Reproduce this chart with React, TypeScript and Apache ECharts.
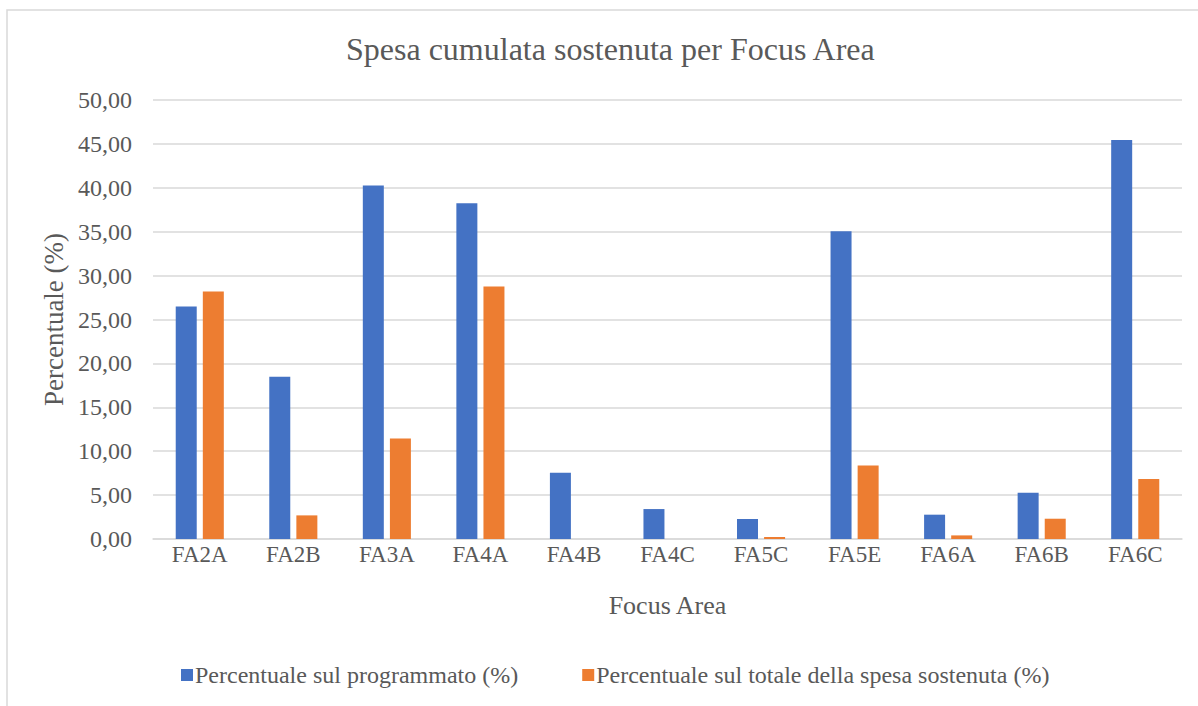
import React, { useEffect, useRef } from "react";
import * as echarts from "echarts";

const categories = ["FA2A", "FA2B", "FA3A", "FA4A", "FA4B", "FA4C", "FA5C", "FA5E", "FA6A", "FA6B", "FA6C"];
const programmato = [26.47, 18.47, 40.25, 38.24, 7.55, 3.41, 2.28, 35.06, 2.77, 5.27, 45.45];
const totaleSpesa = [28.18, 2.69, 11.45, 28.75, 0, 0, 0.23, 8.38, 0.41, 2.31, 6.83];
const seriesNames = ["Percentuale sul programmato (%)", "Percentuale sul totale della spesa sostenuta (%)"];
const titleText = "Spesa cumulata sostenuta per Focus Area";
const xAxisName = "Focus Area";
const yAxisName = "Percentuale (%)";

const FONT = "'Liberation Serif', 'Times New Roman', serif";
const TEXT = "#595959";

export default function App() {
  const ref = useRef<HTMLDivElement>(null);
  useEffect(() => {
    if (!ref.current) return;
    const chart = echarts.init(ref.current, undefined, { renderer: "svg" });
    chart.setOption({
      animation: false,
      backgroundColor: "#ffffff",
      textStyle: { fontFamily: FONT, color: TEXT },
      title: {
        text: titleText,
        left: 341,
        top: 28,
        textStyle: { fontFamily: FONT, fontSize: 32, fontWeight: "normal", color: TEXT },
      },
      graphic: [
        {
          type: "rect",
          shape: { x: 7, y: 10, width: 1400, height: 900 },
          style: { fill: "none", stroke: "#d9d9d9", lineWidth: 1.5 },
          silent: true,
          z: -1,
        },
      ],
      grid: { left: 153, right: 16, top: 100, bottom: 167, containLabel: false },
      legend: {
        bottom: 14,
        left: 176,
        icon: "rect",
        itemWidth: 12,
        itemHeight: 12,
        itemGap: 64,
        textStyle: { fontFamily: FONT, fontSize: 24, color: TEXT, padding: [0, 0, 0, -3] },
        data: seriesNames,
      },
      xAxis: {
        type: "category",
        data: categories,
        name: xAxisName,
        nameLocation: "middle",
        nameGap: 53,
        nameTextStyle: { fontFamily: FONT, fontSize: 26, color: TEXT },
        axisTick: { show: false },
        axisLine: { lineStyle: { color: "#d9d9d9", width: 1.5 } },
        axisLabel: { fontFamily: FONT, fontSize: 23, color: TEXT, margin: 4 },
      },
      yAxis: {
        type: "value",
        min: 0,
        max: 50,
        interval: 5,
        name: yAxisName,
        nameLocation: "middle",
        nameGap: 81,
        nameTextStyle: { fontFamily: FONT, fontSize: 27, color: TEXT },
        axisLine: { show: false },
        axisTick: { show: false },
        splitLine: { lineStyle: { color: "#d9d9d9", width: 1.5 } },
        axisLabel: {
          fontFamily: FONT,
          fontSize: 24,
          color: TEXT,
          margin: 21,
          formatter: (v: number) => v.toFixed(2).replace(".", ","),
        },
      },
      series: [
        {
          name: seriesNames[0],
          type: "bar",
          data: programmato,
          barWidth: 21,
          barGap: "29%",
          itemStyle: { color: "#4472C4" },
        },
        {
          name: seriesNames[1],
          type: "bar",
          data: totaleSpesa,
          barWidth: 21,
          barGap: "29%",
          itemStyle: { color: "#ED7D31" },
        },
      ],
    });
    return () => chart.dispose();
  }, []);
  return (
    <div
      ref={ref}
      style={{ position: "absolute", left: 0, top: 0, width: 1198, height: 706 }}
    />
  );
}
